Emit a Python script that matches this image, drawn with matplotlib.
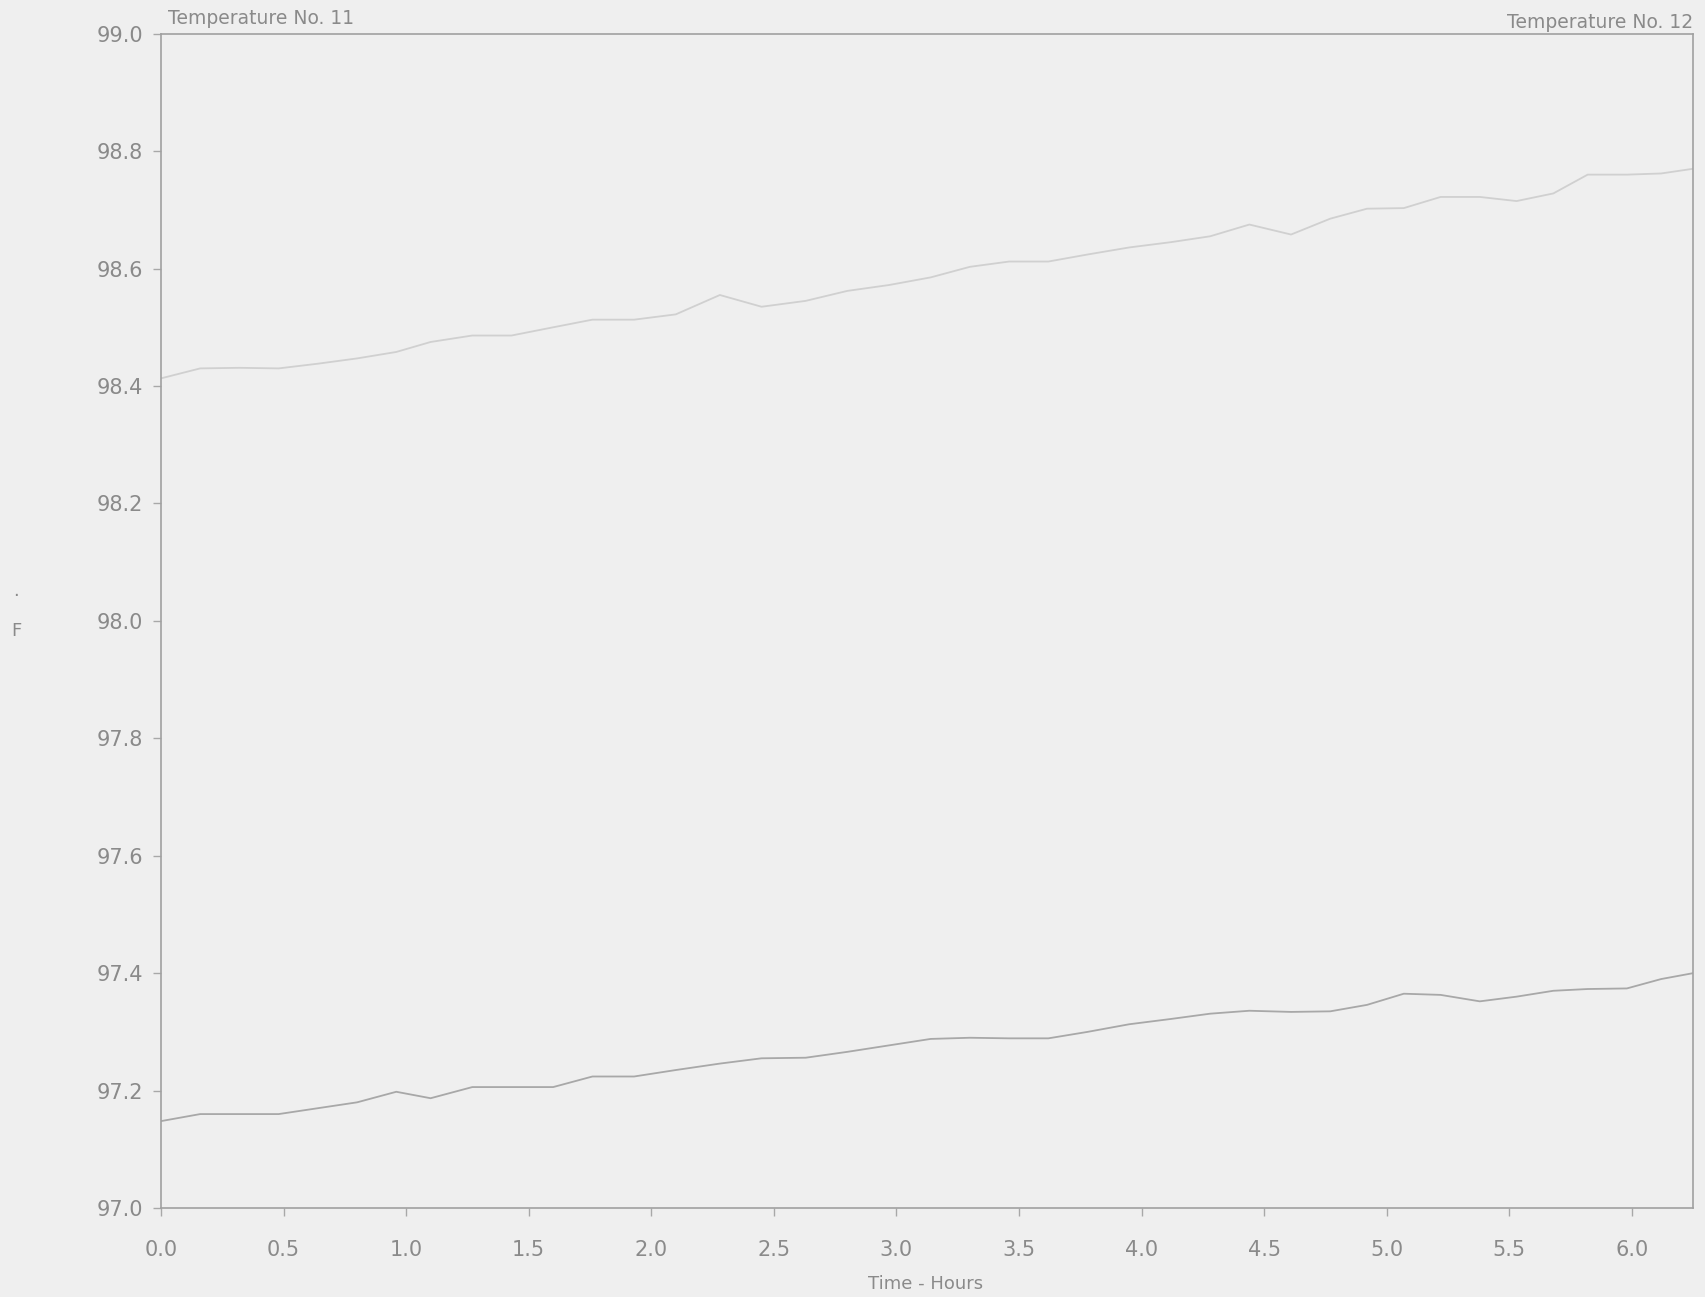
import matplotlib.pyplot as plt

# time in hours
hours = [0.00, 0.16, 0.32, 0.48, 0.64, 0.80, 0.96, 1.10, 1.27, 1.43,
         1.60, 1.76, 1.93, 2.10, 2.28, 2.45, 2.63, 2.80, 2.97, 3.14,
         3.30, 3.46, 3.62, 3.78, 3.95, 4.12, 4.28, 4.44, 4.61, 4.77,
         4.92, 5.07, 5.22, 5.38, 5.53, 5.68, 5.82, 5.98, 6.12, 6.25]

temp_11 = [97.148, 97.160, 97.160, 97.160, 97.170, 97.180, 97.198, 97.187, 97.206, 97.206,
           97.206, 97.224, 97.224, 97.235, 97.246, 97.255, 97.256, 97.266, 97.277, 97.288,
           97.290, 97.289, 97.289, 97.300, 97.313, 97.322, 97.331, 97.336, 97.334, 97.335,
           97.346, 97.365, 97.363, 97.352, 97.360, 97.370, 97.373, 97.374, 97.390, 97.400]

temp_12 = [98.413, 98.430, 98.431, 98.430, 98.438, 98.447, 98.458, 98.475, 98.486, 98.486,
           98.500, 98.513, 98.513, 98.522, 98.555, 98.535, 98.545, 98.562, 98.572, 98.585,
           98.603, 98.612, 98.612, 98.624, 98.636, 98.645, 98.655, 98.675, 98.658, 98.685,
           98.702, 98.703, 98.722, 98.722, 98.715, 98.728, 98.760, 98.760, 98.762, 98.770]

x_ticks = [0.0, 0.5, 1.0, 1.5, 2.0, 2.5, 3.0, 3.5, 4.0, 4.5, 5.0, 5.5, 6.0]
y_ticks = [97.0, 97.2, 97.4, 97.6, 97.8, 98.0, 98.2, 98.4, 98.6, 98.8, 99.0]

bg = '#efefef'
txt = '#8a8a8a'

fig = plt.figure(figsize=(17.05, 12.97), dpi=100, facecolor=bg)
ax = fig.add_axes([0.0944, 0.0686, 0.8986, 0.9054])
ax.set_facecolor(bg)

ax.plot(hours, temp_11, color='#a8a8a8', linewidth=1.3)
ax.plot(hours, temp_12, color='#d0d0d0', linewidth=1.3)

ax.set_xlim(0, 6.25)
ax.set_ylim(97.0, 99.0)
ax.set_xticks(x_ticks)
ax.set_yticks(y_ticks)
ax.set_xticklabels(['%.1f' % v for v in x_ticks])
ax.set_yticklabels(['%.1f' % v for v in y_ticks])

for s in ax.spines.values():
    s.set_color('#a0a0a0')
    s.set_linewidth(1.2)

ax.tick_params(axis='x', direction='out', length=6, width=1, color='#a8a8a8',
               pad=17, labelsize=15, labelcolor=txt)
ax.tick_params(axis='y', direction='out', length=6, width=1, color='#a8a8a8',
               pad=7, labelsize=15, labelcolor=txt)

fig.text(168 / 1705, 1 - 18 / 1297, 'Temperature No. 11', fontsize=13.5,
         color=txt, ha='left', va='center')
fig.text(1693 / 1705, 1 - 22 / 1297, 'Temperature No. 12', fontsize=13.5,
         color=txt, ha='right', va='center')
fig.text(926 / 1705, 1 - 1284 / 1297, 'Time - Hours', fontsize=13,
         color=txt, ha='center', va='center')
fig.text(16 / 1705, 1 - 596 / 1297, '\u00b7', fontsize=13,
         color=txt, ha='center', va='center')
fig.text(16 / 1705, 1 - 631 / 1297, 'F', fontsize=13,
         color=txt, ha='center', va='center')

plt.savefig('out.png', dpi=100, facecolor=bg)
